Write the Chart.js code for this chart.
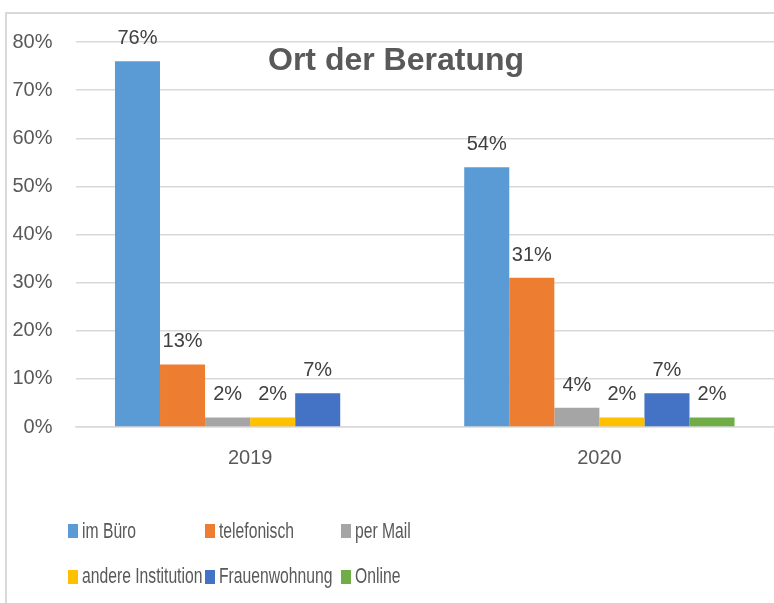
<!DOCTYPE html>
<html>
<head>
<meta charset="utf-8">
<script src="https://cdn.jsdelivr.net/npm/chart.js@4"></script>
<style>
    body { margin: 0; background: #fff; }
    #wrap { position: relative; width: 774px; height: 603px; overflow: hidden; }
    #frame { position: absolute; left: 5px; top: 12px; width: 820px; height: 700px; border: 2px solid #d9d9d9; }
    #chart { position: absolute; left: 0; top: 0; }
    .legend-item { position: absolute; display: flex; align-items: center; height: 20px; white-space: nowrap; }
    .legend-item .box { display: inline-block; width: 10px; height: 14px; margin-right: 4px; flex: none; }
    .legend-item .txt { display: inline-block; font-family: "Liberation Sans", Arial, sans-serif; font-size: 21.5px;
        color: #595959; transform: scaleX(0.73); transform-origin: left center; }
</style>
</head>
<body>
<div id="wrap">
    <div id="frame"></div>
    <canvas id="chart" width="774" height="603"></canvas>
</div>
<script>
// Chart data
const years = ['2019', '2020'];
const seriesNames = ['im Büro', 'telefonisch', 'per Mail', 'andere Institution', 'Frauenwohnung', 'Online'];
const imBuero = [76, 54];
const telefonisch = [13, 31];
const perMail = [2, 4];
const andereInstitution = [2, 2];
const frauenwohnung = [7, 7];
const online = [null, 2];
const seriesColors = ['#5B9BD5', '#ED7D31', '#A5A5A5', '#FFC000', '#4472C4', '#70AD47'];
const yMax = 80;
const yStep = 10;

const seriesValues = [imBuero, telefonisch, perMail, andereInstitution, frauenwohnung, online];

// Value labels above each bar
const valueLabels = {
    id: 'valueLabels',
    afterDatasetsDraw(chart) {
        const ctx = chart.ctx;
        ctx.save();
        ctx.font = '20px "Liberation Sans", Arial, sans-serif';
        ctx.fillStyle = '#404040';
        ctx.textAlign = 'center';
        ctx.textBaseline = 'alphabetic';
        chart.data.datasets.forEach((ds, i) => {
            const meta = chart.getDatasetMeta(i);
            meta.data.forEach((bar, j) => {
                const v = ds.data[j];
                if (v === null || v === undefined) return;
                ctx.fillText(v + '%', bar.x, bar.y - 17);
            });
        });
        ctx.restore();
    }
};

// Title drawn over the plot area, like the original
const overlayTitle = {
    id: 'overlayTitle',
    afterDraw(chart) {
        const ctx = chart.ctx;
        ctx.save();
        ctx.font = 'bold 32px "Liberation Sans", Arial, sans-serif';
        ctx.fillStyle = '#595959';
        ctx.textAlign = 'center';
        ctx.textBaseline = 'alphabetic';
        ctx.fillText('Ort der Beratung', 396, 70);
        ctx.restore();
    }
};

const chart = new Chart(document.getElementById('chart'), {
    type: 'bar',
    data: {
        labels: years,
        datasets: seriesNames.map((name, i) => ({
            label: name,
            data: seriesValues[i],
            backgroundColor: seriesColors[i],
            borderWidth: 0,
            categoryPercentage: 0.774,
            barPercentage: 1
        }))
    },
    options: {
        responsive: false,
        animation: false,
        layout: { padding: { top: 42, right: 0, left: 0, bottom: 0 } },
        plugins: {
            legend: { display: false },
            title: { display: false },
            tooltip: { enabled: false }
        },
        scales: {
            y: {
                min: 0,
                max: yMax,
                ticks: {
                    stepSize: yStep,
                    padding: 23,
                    color: '#595959',
                    font: { family: '"Liberation Sans", Arial, sans-serif', size: 20 },
                    callback: (v) => v + '%'
                },
                grid: { color: '#d9d9d9', lineWidth: 1.5, drawTicks: false },
                border: { display: false },
                afterFit: (s) => { s.width = 75.5; }
            },
            x: {
                ticks: {
                    padding: 19,
                    color: '#595959',
                    font: { family: '"Liberation Sans", Arial, sans-serif', size: 20 }
                },
                grid: { display: false, drawTicks: false },
                border: { color: '#d9d9d9', width: 1.5 },
                afterFit: (s) => { s.height = 176; }
            }
        }
    },
    plugins: [valueLabels, overlayTitle]
});

// HTML legend in three columns
const wrap = document.getElementById('wrap');
seriesNames.forEach((name, i) => {
    const item = document.createElement('div');
    item.className = 'legend-item';
    item.style.left = (68 + (i % 3) * 136.5) + 'px';
    item.style.top = (521 + Math.floor(i / 3) * 45.5) + 'px';
    const box = document.createElement('span');
    box.className = 'box';
    box.style.background = seriesColors[i];
    const txt = document.createElement('span');
    txt.className = 'txt';
    txt.textContent = name;
    item.appendChild(box);
    item.appendChild(txt);
    wrap.appendChild(item);
});
</script>
</body>
</html>
